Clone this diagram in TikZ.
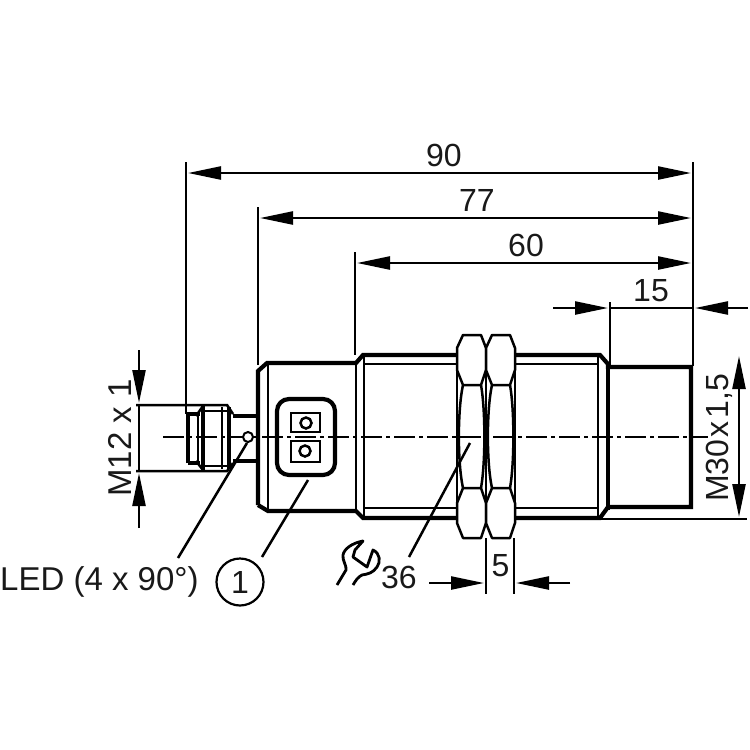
\documentclass[tikz,border=0pt]{standalone}
\usepackage{fontspec}
\setmainfont{Liberation Sans}
\usetikzlibrary{arrows.meta}
\tikzset{
  thick line/.style={line width=4.2pt,line join=miter},
  mid line/.style={line width=2.5pt},
  dimline/.style={line width=2.4pt},
  tipboth/.style={line width=2.4pt,{Triangle[length=33pt,width=13pt]}-{Triangle[length=33pt,width=13pt]},shorten <=2pt,shorten >=2pt},
  tipend/.style={line width=2.4pt,-{Triangle[length=33pt,width=13pt]},shorten >=2pt},
  lab/.style={font=\fontsize{32pt}{32pt}\selectfont,inner sep=0pt,text=black!90},
  biglab/.style={font=\fontsize{33pt}{33pt}\selectfont,inner sep=0pt,text=black!90},
  center line/.style={line width=2.2pt,dash pattern=on 21pt off 4pt on 4pt off 4pt},
  leader/.style={line width=2.5pt},
}
\begin{document}
\begin{tikzpicture}[x=1pt,y=-1pt]
\useasboundingbox (0,0) rectangle (750,750);
\fill[white] (0,0) rectangle (750,750);
% dimension anchors
\coordinate (x90) at (186,173);
\coordinate (r90) at (693,173);
\coordinate (x77) at (258,218);
\coordinate (r77) at (693,218);
\coordinate (x60) at (355,263);
\coordinate (r60) at (693,263);
\coordinate (x15) at (610,308);
\coordinate (r15) at (693,308);
\coordinate (o15l) at (553,308);
\coordinate (o15r) at (748,308);
% extension lines
\draw[dimline] (186,162) -- (186,414);
\draw[dimline] (258,207) -- (258,365);
\draw[dimline] (355,252) -- (355,355);
\draw[dimline] (610,302) -- (610,366);
\draw[dimline] (693,162) -- (693,366);
% dimension lines
\draw[tipboth] (x90) -- (r90);
\draw[tipboth] (x77) -- (r77);
\draw[tipboth] (x60) -- (r60);
\draw[dimline] (x15) -- (r15);
\draw[tipend] (o15l) -- (x15);
\draw[tipend] (o15r) -- (r15);
\node[lab] (d90) at (444,155) {90};
\node[lab] (d77) at (477,200) {77};
\node[lab] (d60) at (526,245) {60};
\node[lab] (d15) at (651,291) {15};
% housing
\draw[thick line] (258,505) -- (258,371) -- (267,363) -- (356,363) -- (363,355) -- (457,355);
\draw[thick line] (258,505) -- (268,511) -- (356,511) -- (363,518) -- (457,518);
\draw[thick line] (515,355) -- (600,355) -- (608,364) -- (608,367) -- (691,367) -- (691,507) -- (608,507) -- (600,518) -- (515,518);
\draw[mid line] (268,364) -- (268,510);
\draw[mid line] (356,363) -- (356,511);
\draw[mid line] (364,357) -- (364,517);
\draw[mid line] (598,357) -- (598,517);
\draw[thick line] (608,364) -- (608,510);
\draw[mid line] (364,364) -- (457,364) (364,508) -- (457,508);
\draw[mid line] (515,364) -- (598,364) (515,508) -- (598,508);
% nuts
\foreach \a/\b in {457/486,486/515}{
  \draw[mid line,line join=round,fill=white] (\a+6,335) -- (\b-5,335) -- (\b,348) -- (\b,370) -- (\b-5,385) -- (\a+6,385) -- (\a,370) -- (\a,348) -- cycle;
  \draw[mid line,line join=round,fill=white] (\a+6,488) -- (\b-5,488) -- (\b,503) -- (\b,523) -- (\b-5,538) -- (\a+6,538) -- (\a,523) -- (\a,503) -- cycle;
  \draw[mid line] (\a,370) -- (\a,503) (\b,370) -- (\b,503);
  \draw[mid line] (\a+6,385) .. controls (\a+0.5,410) and (\a+0.5,463) .. (\a+6,488);
  \draw[mid line] (\b-5,385) .. controls (\b-0.5,410) and (\b-0.5,463) .. (\b-5,488);
}
% connector
\draw[thick line] (258,416) -- (233,416) (258,461) -- (233,461);
\draw[thick line] (188,463) -- (188,414) -- (200,414) (188,463) -- (200,463);
\draw[mid line] (136,405) -- (227,405) -- (233,414);
\draw[mid line] (136,471) -- (227,471) -- (233,463);
\draw[thick line] (203,405) -- (203,471);
\draw[mid line] (203,406) -- (196,416) (203,470) -- (196,461);
\draw[mid line] (198,414) -- (198,463);
\draw[mid line] (222,407) -- (222,469);
\draw[thick line] (229,407) -- (229,469);
\draw[mid line] (203,411) -- (229,411) (203,466) -- (229,466);
% window
\draw[line width=4.2pt,rounded corners=12pt] (277,399) rectangle (335,475);
\draw[mid line] (291,413) rectangle (320,432);
\draw[mid line] (291,441) rectangle (320,462);
\draw[mid line] (306,423) circle (5.5);
\draw[mid line] (305,451) circle (5.5);
% centre line
\draw[center line] (163,437) -- (708,437);
% LED
\node[draw,circle,line width=2pt,fill=white,minimum size=10pt,inner sep=0pt] (lamp) at (248,437) {};
% M12 dimension
\coordinate (m12t) at (139,405);
\coordinate (m12b) at (139,471);
\coordinate (m12o) at (139,350);
\coordinate (m12u) at (139,528);
\draw[dimline] (m12t) -- (m12b);
\draw[tipend] (m12o) -- (m12t);
\draw[tipend] (m12u) -- (m12b);
\node[biglab,rotate=90] (m12) at (120,438) {M12 x 1};
% M30 dimension
\coordinate (m30t) at (739,354);
\coordinate (m30b) at (739,519);
\draw[dimline] (600,519) -- (747,519);
\draw[tipboth] (m30t) -- (m30b);
\node[lab,rotate=90] (m30) at (719,438) {M30\kern2.5pt x\kern2.5pt 1,5};
% 5 dimension
\coordinate (f1) at (486,583);
\coordinate (f2) at (514,583);
\coordinate (f1o) at (429,583);
\coordinate (f2o) at (570,583);
\draw[dimline] (486,538) -- (486,594);
\draw[dimline] (514,538) -- (514,594);
\draw[tipend] (f1o) -- (f1);
\draw[tipend] (f2o) -- (f2);
\node[lab] (five) at (500.5,566) {5};
% leaders
\node[biglab,anchor=west] (led) at (0,582) {LED (4 x 90°)};
\coordinate (ledstart) at (178,558);
\draw[leader] (lamp.south) ++(-1,0) -- (ledstart);
\node[draw,circle,line width=2.2pt,minimum size=47pt,inner sep=0pt,font=\fontsize{32pt}{32pt}\selectfont,text=black!90] (one) at (240,582) {1};
\coordinate (winend) at (308,480);
\coordinate (winstart) at (262,557);
\draw[leader] (winend) -- (winstart);
\node[lab] (size) at (399,577) {36};
\coordinate (nutend) at (470,443);
\coordinate (nutstart) at (409,557);
\draw[leader] (nutend) -- (nutstart);
% wrench
\draw[line width=2.8pt,line join=round] (337,585) -- (346,570) .. controls (347,566) and (342,560) .. (343,555) .. controls (344,549) and (352,543) .. (363,541) -- (355,550) -- (353,557) -- (367,567) -- (373,550) .. controls (380,553) and (381,562) .. (377,567) .. controls (373,573) and (368,574) .. (362,575) .. controls (358,577) and (356,580) .. (353,585);
\end{tikzpicture}
\end{document}
